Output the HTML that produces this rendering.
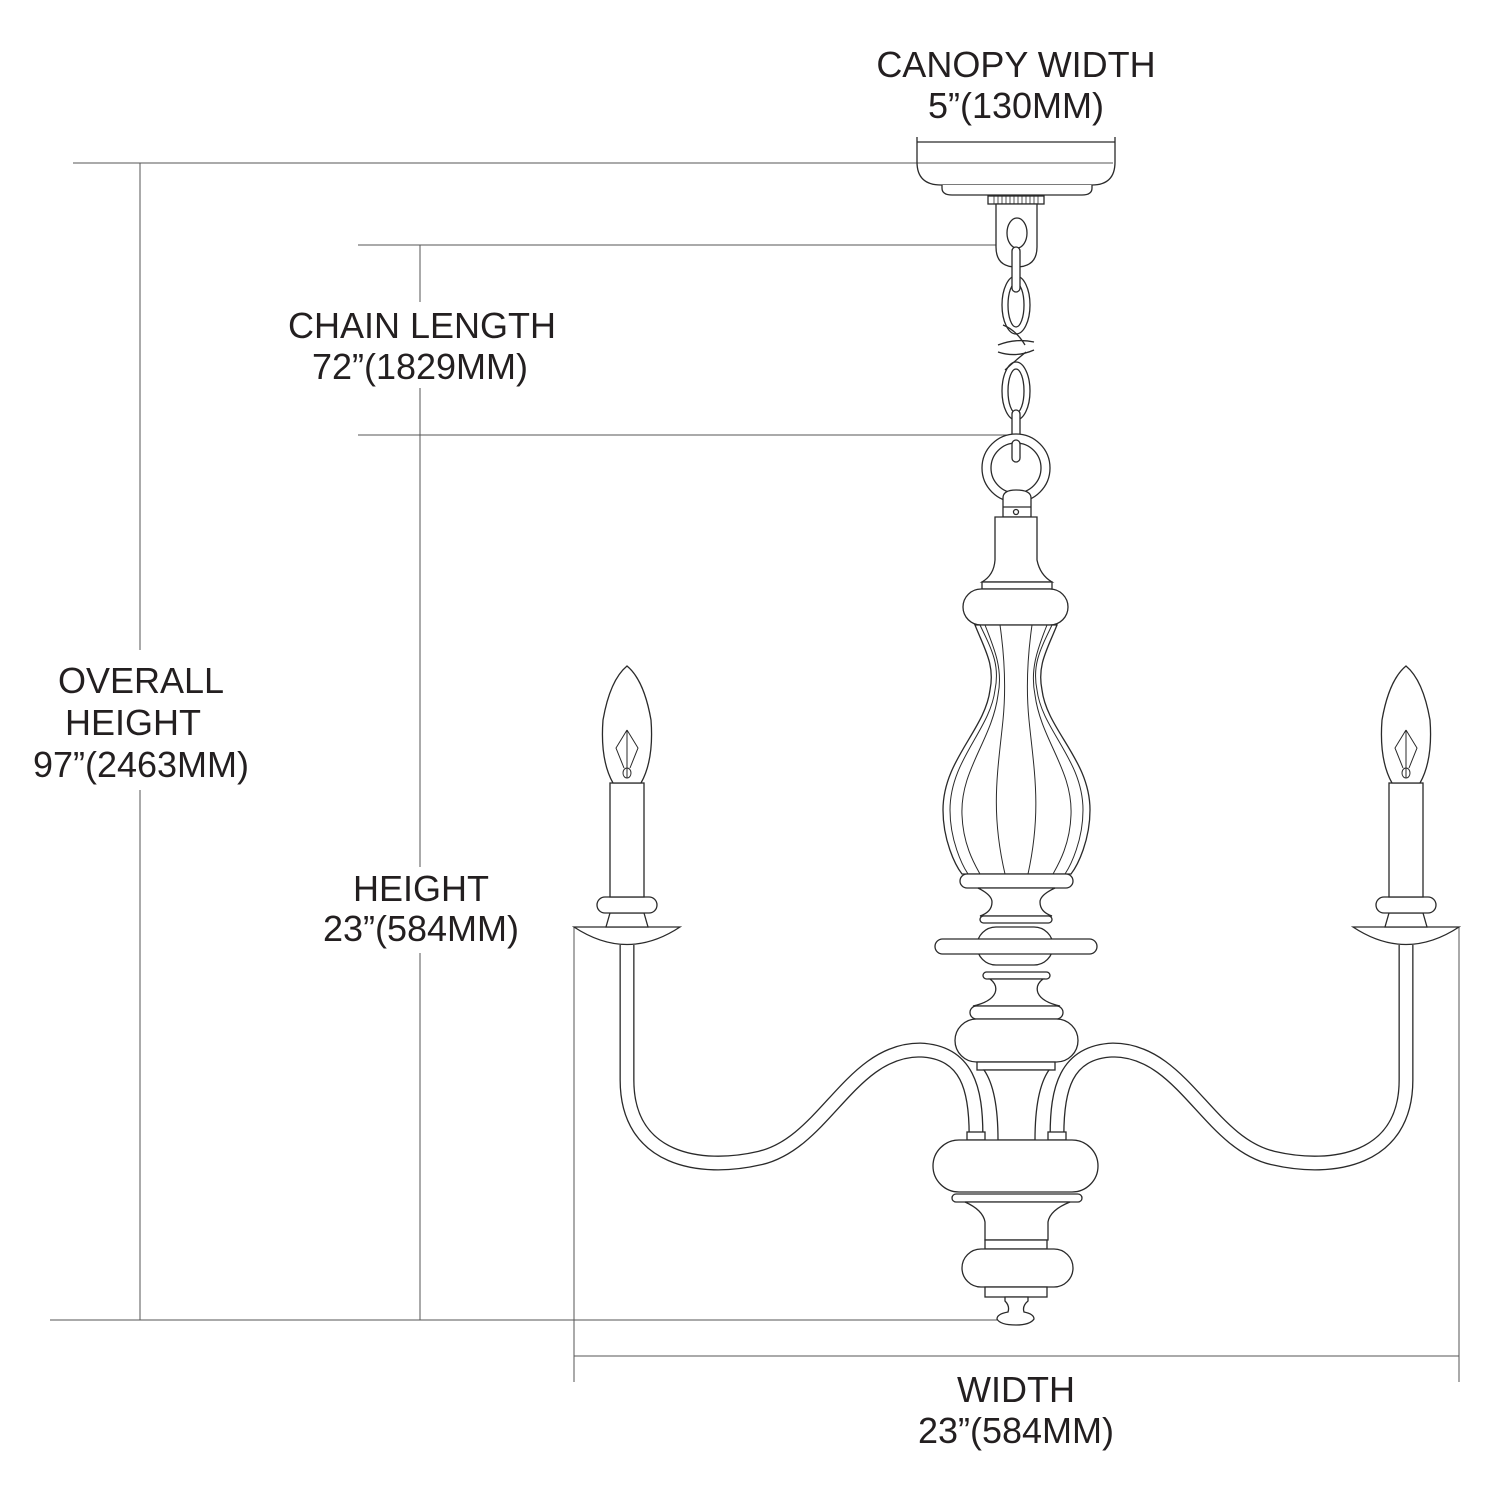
<!DOCTYPE html>
<html><head><meta charset="utf-8"><style>
html,body{margin:0;padding:0;background:#fff;}
svg{display:block;}
text{font-family:"Liberation Sans",Arial,sans-serif;font-size:36px;fill:#231f20;text-anchor:middle;}
</style></head><body>
<svg width="1489" height="1500" viewBox="0 0 1489 1500" xmlns="http://www.w3.org/2000/svg">
<!-- dimension lines -->
<g stroke="#555" stroke-width="1" fill="none">
<line x1="73" y1="163" x2="1113" y2="163"/>
<line x1="140" y1="163" x2="140" y2="650"/>
<line x1="140" y1="790" x2="140" y2="1320"/>
<line x1="50" y1="1320" x2="1000" y2="1320"/>
<line x1="358" y1="245" x2="1013" y2="245"/>
<line x1="358" y1="435" x2="1013" y2="435"/>
<line x1="420" y1="245" x2="420" y2="302"/>
<line x1="420" y1="388" x2="420" y2="867"/>
<line x1="420" y1="953" x2="420" y2="1320"/>
<line x1="574" y1="927" x2="574" y2="1382"/>
<line x1="1459" y1="927" x2="1459" y2="1382"/>
<line x1="574" y1="1356" x2="1459" y2="1356"/>
</g>

<!-- text -->
<text x="1016" y="77">CANOPY WIDTH</text>
<text x="1016" y="118">5”(130MM)</text>
<text x="422" y="338">CHAIN LENGTH</text>
<text x="420" y="379">72”(1829MM)</text>
<text x="141" y="693">OVERALL</text>
<text x="133" y="735">HEIGHT</text>
<text x="141" y="777">97”(2463MM)</text>
<text x="421" y="901">HEIGHT</text>
<text x="421" y="941">23”(584MM)</text>
<text x="1016" y="1402">WIDTH</text>
<text x="1016" y="1443">23”(584MM)</text>

<g stroke="#2a2a2a" stroke-width="1.3" fill="#fff">
<!-- canopy -->
<path d="M917,137 L917,162 Q917,185 941,185 L1092,185 Q1115,185 1115,162 L1115,137" fill="none"/>
<line x1="917" y1="142" x2="1115" y2="142"/>
<path d="M942,185 L942,188 Q942,195 952,195 L1082,195 Q1092,195 1092,188 L1092,185"/>
<rect x="988" y="196" width="56" height="8"/>
<g stroke-width="0.8"><path d="M994,196v8M998,196v8M1002,196v8M1006,196v8M1010,196v8M1014,196v8M1018,196v8M1022,196v8M1026,196v8M1030,196v8M1034,196v8M1038,196v8"/></g>
<path d="M996,204 L1037,204 L1037,247 Q1037,267 1016,267 Q996,267 996,247 Z"/>
<ellipse cx="1017" cy="233" rx="10" ry="15"/>
<!-- chain -->
<ellipse cx="1016" cy="305" rx="14" ry="29"/>
<ellipse cx="1016" cy="305" rx="8" ry="22"/>
<ellipse cx="1016" cy="391" rx="14" ry="29"/>
<ellipse cx="1016" cy="391" rx="8" ry="22"/>
<rect x="1012" y="247" width="8" height="45" rx="4"/>
<rect x="1012" y="410" width="8" height="42" rx="4"/>
<path d="M1003,325 Q1016,330 1025,345 M1005,370 Q1016,360 1026,352" fill="none"/>
<path d="M998,345 Q1016,338 1034,342 M998,352 Q1016,358 1034,350" fill="none"/>
<!-- ring -->
<circle cx="1016" cy="468" r="34"/>
<circle cx="1016" cy="468" r="25"/>
<rect x="1012" y="440" width="8" height="22" rx="4"/>
<path d="M1003,517 L1003,498 Q1003,490 1016,490 Q1031,490 1031,498 L1031,517 Z"/>
<line x1="1003" y1="507" x2="1031" y2="507"/>
<circle cx="1016" cy="512" r="2.5"/>
<!-- upper body -->
<path d="M995,517 L1037,517 L1037,560 Q1040,575 1052,582 L982,582 Q994,575 995,560 Z"/>
<rect x="982" y="582" width="70" height="7"/>
<rect x="963" y="589" width="105" height="36" rx="18"/>
<!-- vase -->
<path d="M975,625 C985,650 995,665 990,690 C985,730 943,760 943,810 C943,840 955,865 962,874 L1071,874 C1078,865 1090,840 1090,810 C1090,760 1047,730 1042,690 C1037,665 1047,650 1057,625 Z"/>
<g fill="none" stroke-width="1">
<path d="M980,625 C992,650 1000,665 995,690 C990,730 950,760 950,810 C950,840 962,865 968,874"/>
<path d="M985,625 C995,650 1003,670 998,695 C992,740 960,770 962,815 C963,845 975,865 980,874"/>
<path d="M1000,625 C1005,660 1006,690 1003,720 C998,770 990,810 1005,874"/>
<path d="M1052,625 C1040,650 1032,665 1037,690 C1042,730 1083,760 1083,810 C1083,840 1071,865 1065,874"/>
<path d="M1047,625 C1037,650 1030,670 1035,695 C1041,740 1073,770 1071,815 C1070,845 1058,865 1053,874"/>
<path d="M1032,625 C1027,660 1026,690 1029,720 C1034,770 1042,810 1028,874"/>
</g>
<rect x="960" y="874" width="113" height="14" rx="7"/>
<path d="M978,888 L1055,888 Q1040,895 1040,902 Q1040,912 1052,916 L980,916 Q992,912 992,902 Q992,895 978,888 Z"/>
<rect x="980" y="916" width="72" height="7" rx="3.5"/>
<rect x="977" y="927" width="76" height="38" rx="19"/>
<rect x="935" y="939" width="162" height="15" rx="7.5"/>
<rect x="983" y="972" width="67" height="7" rx="3.5"/>
<path d="M990,979 L1043,979 Q1035,985 1038,993 Q1042,1002 1060,1006 L973,1006 Q991,1002 995,993 Q998,985 990,979 Z"/>
<rect x="970" y="1006" width="93" height="13" rx="6.5"/>
<rect x="955" y="1019" width="123" height="43" rx="21.5"/>
<rect x="977" y="1062" width="78" height="8"/>
<path d="M984,1070 L1049,1070 Q1035,1090 1035,1140 L998,1140 Q998,1090 984,1070 Z"/>
</g>

<!-- arms -->
<g fill="none">
<path d="M627,945 L627,1080 C627,1160 700,1172 760,1158 C825,1143 850,1050 920,1050 C968,1052 976,1090 976,1135" stroke="#2a2a2a" stroke-width="15"/>
<path d="M627,945 L627,1080 C627,1160 700,1172 760,1158 C825,1143 850,1050 920,1050 C968,1052 976,1090 976,1135" stroke="#fff" stroke-width="12.4"/>
<g transform="translate(2033,0) scale(-1,1)">
<path d="M627,945 L627,1080 C627,1160 700,1172 760,1158 C825,1143 850,1050 920,1050 C968,1052 976,1090 976,1135" stroke="#2a2a2a" stroke-width="15"/>
<path d="M627,945 L627,1080 C627,1160 700,1172 760,1158 C825,1143 850,1050 920,1050 C968,1052 976,1090 976,1135" stroke="#fff" stroke-width="12.4"/>
</g>
</g>

<g stroke="#2a2a2a" stroke-width="1.3" fill="#fff">
<rect x="967" y="1132" width="18" height="8"/>
<rect x="1048" y="1132" width="18" height="8"/>
<!-- lower body -->
<rect x="933" y="1140" width="165" height="52" rx="26"/>
<rect x="952" y="1194" width="130" height="8" rx="4"/>
<path d="M965,1202 L1070,1202 Q1050,1210 1048,1222 L1048,1240 L985,1240 L985,1222 Q983,1210 965,1202 Z"/>
<rect x="985" y="1240" width="62" height="9"/>
<rect x="962" y="1249" width="111" height="38" rx="19"/>
<rect x="985" y="1287" width="62" height="10"/>
<path d="M1005,1297 L1028,1297 L1028,1301 Q1022,1306 1024,1312 Q1034,1314 1034,1319 Q1030,1325 1016,1325 Q1000,1325 997,1319 Q997,1314 1008,1312 Q1010,1306 1005,1301 Z"/>

<!-- candles -->
<g>
<path d="M574,927 L680,927 Q627,962 574,927 Z"/>
<path d="M610,913 L644,913 L648,927 L606,927 Z"/>
<rect x="597" y="897" width="60" height="16" rx="8"/>
<rect x="610" y="783" width="34" height="114"/>
<path d="M613,783 Q600,760 603,720 Q610,680 627,666 Q644,680 651,720 Q654,760 641,783 Z"/>
<g stroke-width="1" fill="none">
<path d="M627,730 L616,748 L624,768 M627,730 L638,748 L630,768"/>
<line x1="627" y1="730" x2="627" y2="778"/>
<ellipse cx="627" cy="773" rx="4" ry="5"/>
</g>
</g>
<g transform="translate(2033,0) scale(-1,1)">
<path d="M574,927 L680,927 Q627,962 574,927 Z"/>
<path d="M610,913 L644,913 L648,927 L606,927 Z"/>
<rect x="597" y="897" width="60" height="16" rx="8"/>
<rect x="610" y="783" width="34" height="114"/>
<path d="M613,783 Q600,760 603,720 Q610,680 627,666 Q644,680 651,720 Q654,760 641,783 Z"/>
<g stroke-width="1" fill="none">
<path d="M627,730 L616,748 L624,768 M627,730 L638,748 L630,768"/>
<line x1="627" y1="730" x2="627" y2="778"/>
<ellipse cx="627" cy="773" rx="4" ry="5"/>
</g>
</g>
</g>
</svg>
</body></html>
